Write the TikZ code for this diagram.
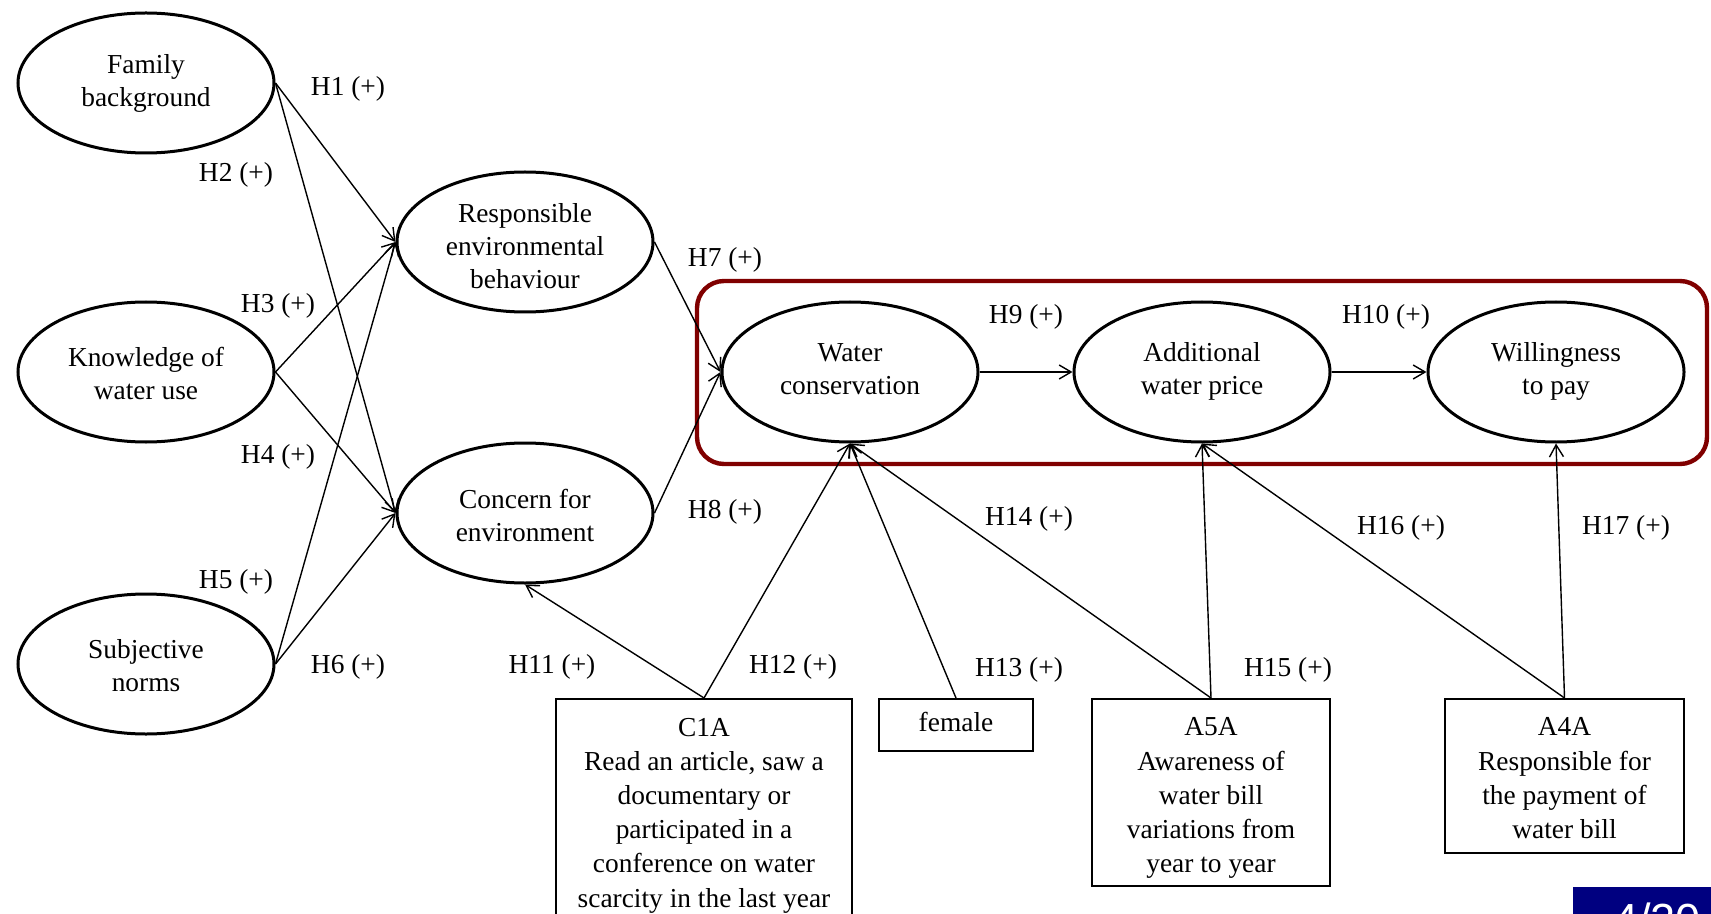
\documentclass[tikz,border=0pt]{standalone}
\usepackage{fontspec}
\setmainfont{Liberation Serif}
\newfontfamily\numfont{Liberation Sans}
\usetikzlibrary{shapes.geometric,arrows.meta}
\definecolor{boxred}{RGB}{128,0,0}
\definecolor{slidenavy}{RGB}{0,0,128}
\begin{document}
\begin{tikzpicture}[x=0.5pt,y=-0.5pt,
  every node/.style={font=\fontsize{13.7}{16.5}\selectfont},
  latent/.style={ellipse,draw,line width=1.5pt,minimum width=128pt,minimum height=70pt,inner sep=0pt},
  ltext/.style={inner sep=0pt,align=center},
  obs/.style={rectangle,draw,line width=0.9pt,anchor=north,inner sep=0pt},
  otext/.style={inner sep=0pt,anchor=north,align=center,font=\fontsize{13.7}{17.1}\selectfont},
  link/.style={line width=0.7pt,-{Straight Barb[length=6pt,width=7pt]}},
  hlab/.style={inner sep=0pt}]
\useasboundingbox (0,0) rectangle (1711,914);
% red group frame
\draw[boxred,line width=2.2pt,rounded corners=13.5pt] (697,281) rectangle (1707,464);
% latent constructs
\node[latent] (fam) at (146,83) {};
\node[latent] (kno) at (146,372) {};
\node[latent] (sub) at (146,664) {};
\node[latent] (resp) at (525,242) {};
\node[latent] (con) at (525,513) {};
\node[latent] (wc) at (850,372) {};
\node[latent] (awp) at (1202,372) {};
\node[latent] (wtp) at (1556,372) {};
\node[ltext] (famT) at (146,83) {Family\\background};
\node[ltext] (knoT) at (146,373.5) {Knowledge of\\water use};
\node[ltext] (subT) at (146,665.5) {Subjective\\norms};
\node[ltext] (respT) at (525,246) {Responsible\\environmental\\behaviour};
\node[ltext] (conT) at (525,515) {Concern for\\environment};
\node[ltext] (wcT) at (850,369) {Water\\conservation};
\node[ltext] (awpT) at (1202,371) {Additional\\water price};
\node[ltext] (wtpT) at (1556,371) {Willingness\\to pay};
% observed variables
\node[obs,minimum width=148pt,minimum height=121pt] (c1a) at (704,698) {};
\node[obs,minimum width=77pt,minimum height=26pt] (fem) at (956,698) {};
\node[obs,minimum width=119pt,minimum height=93.5pt] (a5a) at (1211,698) {};
\node[obs,minimum width=119.5pt,minimum height=77pt] (a4a) at (1564.5,698) {};
\node[otext] (c1aT) at (704,717.5) {C1A\\Read an article, saw a\\documentary or\\participated in a\\conference on water\\scarcity in the last year};
\node[inner sep=0pt] (femT) at (956,722) {female};
\node[otext] (a5aT) at (1211,717.5) {A5A\\Awareness of\\water bill\\variations from\\year to year};
\node[otext] (a4aT) at (1564.5,717.5) {A4A\\Responsible for\\the  payment of\\water bill};
% paths
\draw[link] (fam.east) -- (resp.west);
\draw[link] (fam.east) -- (con.west);
\draw[link] (kno.east) -- (resp.west);
\draw[link] (kno.east) -- (con.west);
\draw[link] (sub.east) -- (resp.west);
\draw[link] (sub.east) -- (con.west);
\draw[link] (resp.east) -- (wc.west);
\draw[link] (con.east) -- (wc.west);
\draw[link] (wc.east) -- (awp.west);
\draw[link] (awp.east) -- (wtp.west);
\draw[link] (c1a.north) -- (con.south);
\draw[link] (c1a.north) -- (wc.south);
\draw[link] (fem.north) -- (wc.south);
\draw[link] (a5a.north) -- (wc.south);
\draw[link] (a5a.north) -- (awp.south);
\draw[link] (a4a.north) -- (awp.south);
\draw[link] (a4a.north) -- (wtp.south);
% hypothesis labels
\node[hlab] (h1) at (348,89) {H1 (+)};
\node[hlab] (h2) at (236,175) {H2 (+)};
\node[hlab] (h3) at (278,306) {H3 (+)};
\node[hlab] (h4) at (278,457) {H4 (+)};
\node[hlab] (h5) at (236,582) {H5 (+)};
\node[hlab] (h6) at (348,667) {H6 (+)};
\node[hlab] (h7) at (725,260) {H7 (+)};
\node[hlab] (h8) at (725,512) {H8 (+)};
\node[hlab] (h9) at (1026,317) {H9 (+)};
\node[hlab] (h10) at (1386,317) {H10 (+)};
\node[hlab] (h11) at (552,667) {H11 (+)};
\node[hlab] (h12) at (793,667) {H12 (+)};
\node[hlab] (h13) at (1019,670) {H13 (+)};
\node[hlab] (h14) at (1029,519) {H14 (+)};
\node[hlab] (h15) at (1288,670) {H15 (+)};
\node[hlab] (h16) at (1401,528) {H16 (+)};
\node[hlab] (h17) at (1626,528) {H17 (+)};
% slide number (clipped at the lower edge)
\fill[slidenavy] (1573,887) rectangle (1711,930);
\node[anchor=base west,inner sep=0pt,text=white,font=\numfont\fontsize{22.5}{27}\selectfont] (pg) at (1613,935) {4/20};
\end{tikzpicture}
\end{document}
